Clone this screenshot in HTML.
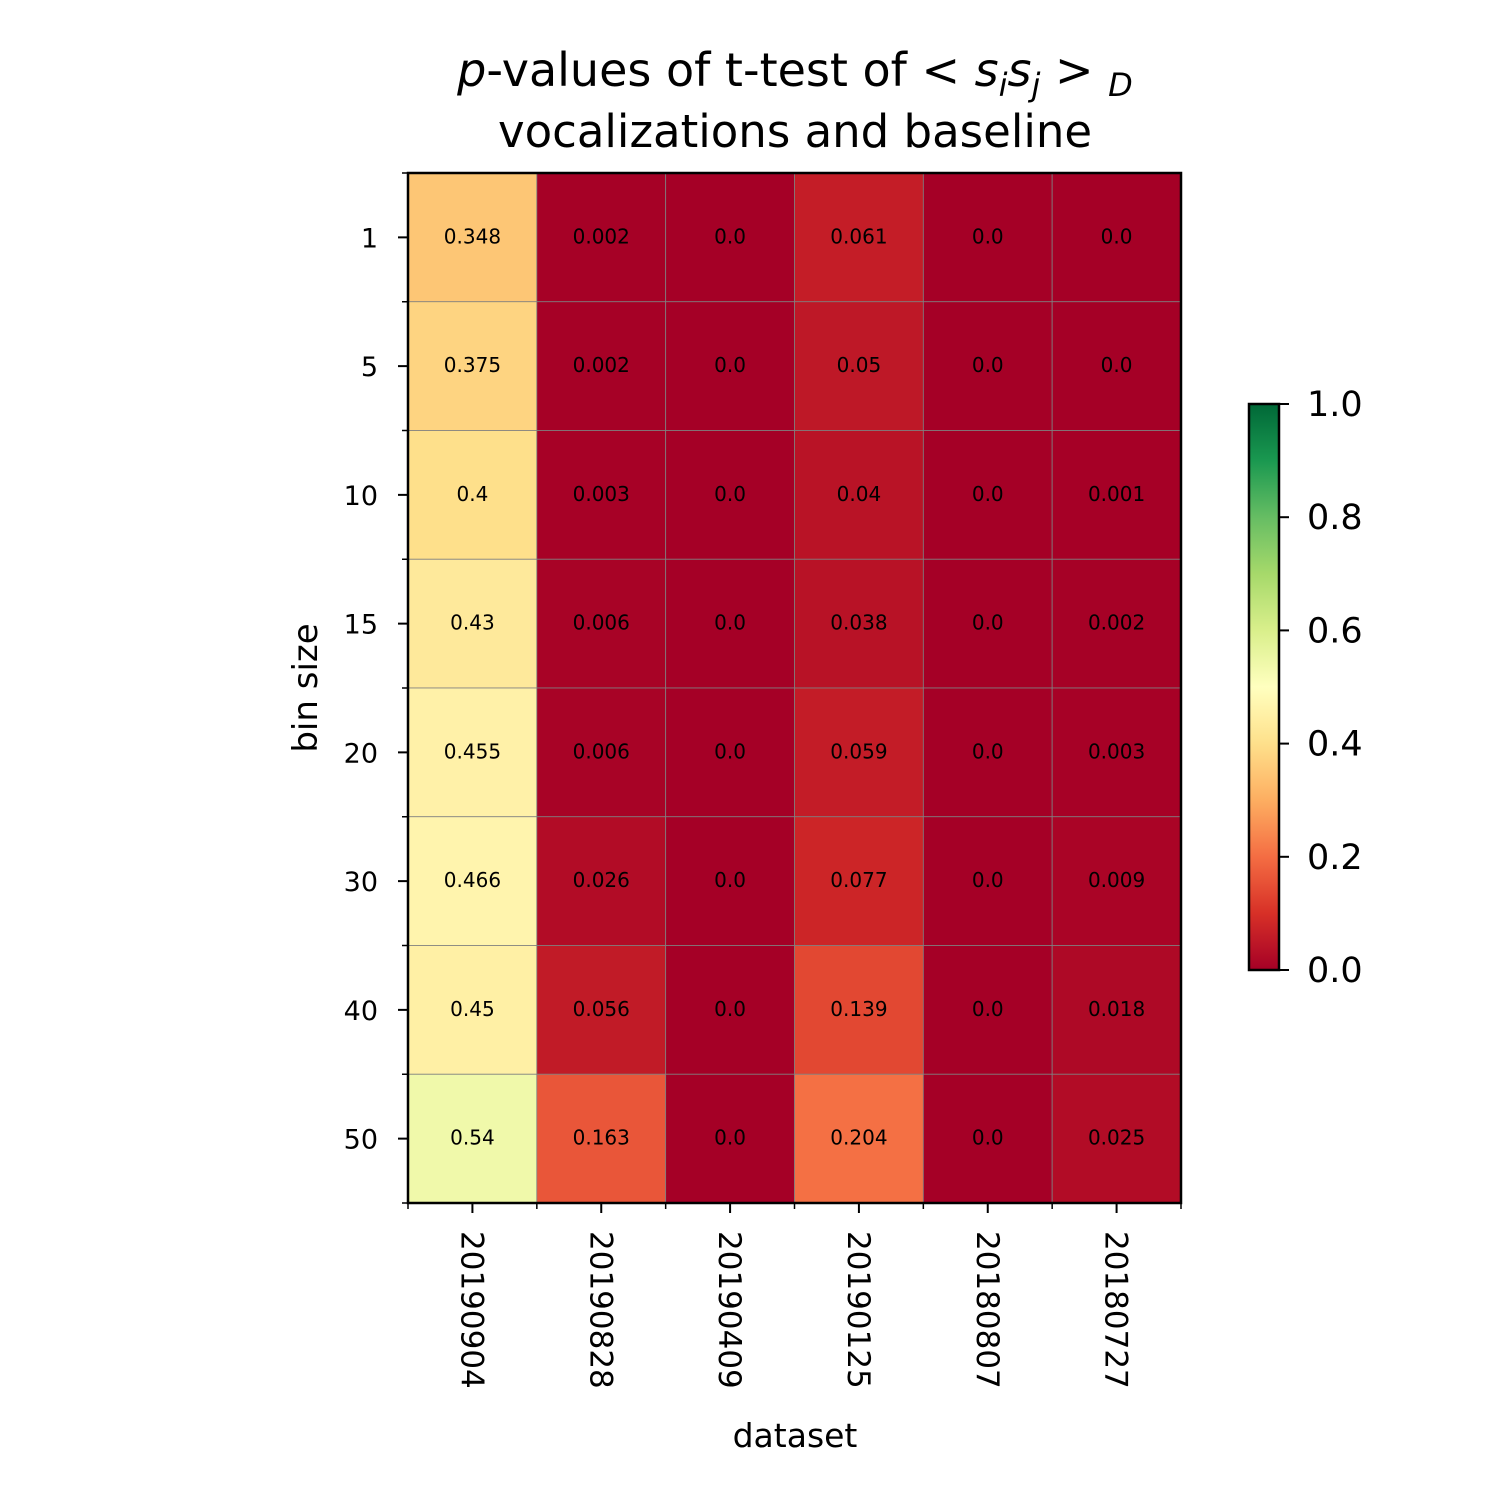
<!DOCTYPE html>
<html><head><meta charset="utf-8">
<style>
html,body{margin:0;padding:0;background:#fff;}
svg text{font-family:"DejaVu Sans","Liberation Sans",sans-serif;}
</style></head>
<body>
<svg id="chart" width="1500" height="1500" xmlns="http://www.w3.org/2000/svg">
<text x="795" y="86" font-size="46" text-anchor="middle"><tspan font-style="italic">p</tspan>-values of t-test of  &lt; <tspan font-style="italic">s</tspan><tspan font-style="italic" font-size="32" dy="10">i</tspan><tspan font-style="italic" dy="-10">s</tspan><tspan font-style="italic" font-size="32" dy="10">j</tspan><tspan dy="-10" xml:space="preserve"> &gt; </tspan><tspan font-style="italic" font-size="32" dy="10">D</tspan></text>
<text x="795" y="147" font-size="45" text-anchor="middle">vocalizations and baseline</text>
<g id="cells"></g>
<g id="axes"></g>
<text transform="translate(317,688) rotate(-90)" font-size="34" text-anchor="middle">bin size</text>
<text x="795" y="1447" font-size="33" text-anchor="middle">dataset</text>
<defs><linearGradient id="cbgrad" x1="0" y1="1" x2="0" y2="0"></linearGradient></defs>
<g id="colorbar"></g>
</svg>
<script>
const datasets=["20190904","20190828","20190409","20190125","20180807","20180727"];
const binSizes=["1","5","10","15","20","30","40","50"];
const col0=[0.348,0.375,0.4,0.43,0.455,0.466,0.45,0.54];
const col1=[0.002,0.002,0.003,0.006,0.006,0.026,0.056,0.163];
const col2=[0.0,0.0,0.0,0.0,0.0,0.0,0.0,0.0];
const col3=[0.061,0.05,0.04,0.038,0.059,0.077,0.139,0.204];
const col4=[0.0,0.0,0.0,0.0,0.0,0.0,0.0,0.0];
const col5=[0.0,0.0,0.001,0.002,0.003,0.009,0.018,0.025];
const cbTicks=[0.0,0.2,0.4,0.6,0.8,1.0];
const cols=[col0,col1,col2,col3,col4,col5];
const NS="http://www.w3.org/2000/svg";
const stops=["#a50026","#d73027","#f46d43","#fdae61","#fee08b","#ffffbf","#d9ef8b","#a6d96a","#66bd63","#1a9850","#006837"];
function hx(c){return [1,3,5].map(i=>parseInt(c.substr(i,2),16));}
function cmap(v){v=Math.max(0,Math.min(1,v));const p=v*10,i=Math.min(9,Math.floor(p)),t=p-i;const a=hx(stops[i]),b=hx(stops[i+1]);return "rgb("+a.map((x,k)=>Math.round(x+(b[k]-x)*t)).join(",")+")";}
const L=408,R=1181,T=173,B=1203;
const cw=(R-L)/datasets.length, rh=(B-T)/binSizes.length;
const xAt=i=>L+i*cw, yAt=j=>T+j*rh;
function mk(tag,attrs,parent){const e=document.createElementNS(NS,tag);for(const k in attrs)e.setAttribute(k,attrs[k]);parent.appendChild(e);return e;}
const cells=document.getElementById('cells'),axes=document.getElementById('axes');
cols.forEach((col,i)=>col.forEach((v,j)=>{
 const r=mk('rect',{x:xAt(i),y:yAt(j),width:cw,height:rh,fill:cmap(v),stroke:'#808080','stroke-width':0.8},cells);
 
 
 const t=mk('text',{x:xAt(i)+cw/2,y:yAt(j)+rh/2+6,'font-size':20,'text-anchor':'middle'},cells);
 t.textContent=String(v===0?"0.0":v);
 
 
}));
const fr=mk('rect',{x:L,y:T,width:R-L,height:B-T,fill:'none',stroke:'#000','stroke-width':2.5},axes);

binSizes.forEach((b,j)=>{
 const y=yAt(j)+rh/2;
 mk('line',{x1:L-10,x2:L,y1:y,y2:y,stroke:'#000','stroke-width':2},axes);
 const t=mk('text',{x:L-30,y:y+10,'font-size':27,'text-anchor':'end'},axes);
 t.textContent=b;
});
for(let j=0;j<=binSizes.length;j++){mk('line',{x1:L-6,x2:L,y1:yAt(j),y2:yAt(j),stroke:'#000','stroke-width':1.5},axes);}
datasets.forEach((d,i)=>{
 const x=xAt(i)+cw/2;
 mk('line',{x1:x,x2:x,y1:B,y2:B+10,stroke:'#000','stroke-width':2},axes);
 const t=mk('text',{transform:'translate('+(x-11)+','+(B+28)+') rotate(90)','font-size':31,'text-anchor':'start'},axes);
 t.textContent=d;
});
for(let i=0;i<=datasets.length;i++){mk('line',{x1:xAt(i),x2:xAt(i),y1:B,y2:B+6,stroke:'#000','stroke-width':1.5},axes);}
const g=document.getElementById('cbgrad');
for(let k=0;k<=20;k++){mk('stop',{offset:(k/20),'stop-color':cmap(k/20)},g);}
const cb=document.getElementById('colorbar');
const CL=1249,CR=1279,CT=404,CB=970;
const cbY=v=>CB-v*(CB-CT);
const cr=mk('rect',{x:CL,y:CT,width:CR-CL,height:CB-CT,fill:'url(#cbgrad)',stroke:'#000','stroke-width':2.5},cb);

cbTicks.forEach(v=>{
 const y=cbY(v);
 mk('line',{x1:CR,x2:CR+10,y1:y,y2:y,stroke:'#000','stroke-width':2},cb);
 const t=mk('text',{x:CR+28,y:y+12,'font-size':35},cb);
 t.textContent=v.toFixed(1);
});
</script>
</body></html>
